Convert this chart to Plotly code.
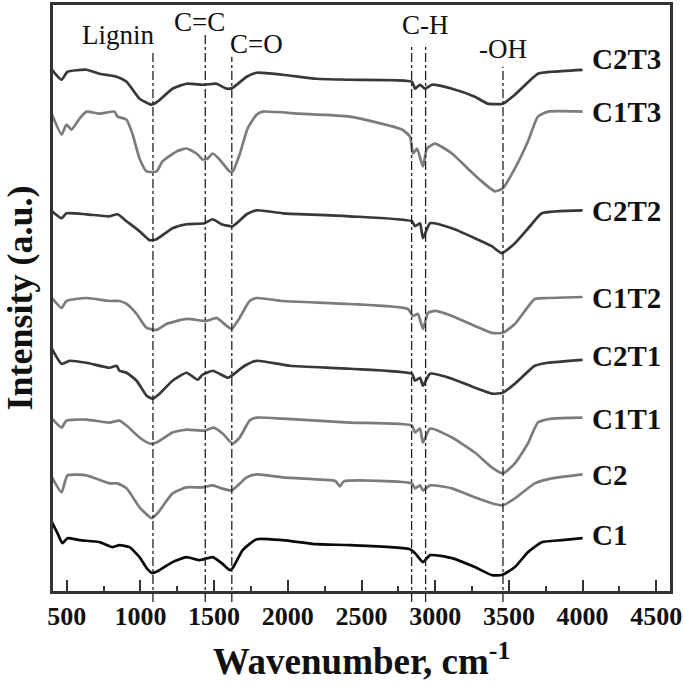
import plotly.graph_objects as go

# FTIR spectra, offset stacked
c2t3_x = [400, 465, 505, 634, 723, 838, 906, 994, 1076, 1116, 1218, 1313, 1435, 1517, 1585, 1626, 1721, 1789,
          1965, 2196, 2421, 2842, 2863, 2897, 2931, 2978, 3114, 3269, 3357, 3459, 3541, 3697, 3792, 4000]
c2t3_y = [524, 514, 522, 524, 520, 517, 512, 495, 489, 492, 505, 510, 509, 510, 505, 506, 517, 521,
          519, 515, 514, 512, 505, 509, 505, 509, 505, 497, 490, 490, 499, 520, 522, 524]

c1t3_x = [400, 465, 498, 532, 587, 634, 723, 824, 845, 906, 947, 994, 1042, 1110, 1150, 1245, 1313, 1381, 1422,
          1456, 1490, 1537, 1605, 1626, 1673, 1727, 1789, 1829, 2080, 2421, 2774, 2829, 2849, 2877, 2917, 2944,
          2998, 3114, 3221, 3316, 3405, 3459, 3541, 3629, 3697, 3765, 4000]
c1t3_y = [479, 459, 469, 464, 475, 482, 480, 482, 477, 474, 459, 435, 422, 422, 432, 442, 445, 440, 434,
          435, 440, 434, 422, 422, 439, 465, 479, 482, 480, 477, 464, 457, 440, 445, 427, 445,
          450, 440, 425, 412, 402, 405, 425, 452, 477, 482, 482]

c2t2_x = [400, 465, 498, 634, 790, 845, 906, 994, 1062, 1110, 1218, 1313, 1435, 1490, 1551, 1626, 1721, 1789,
          1965, 2421, 2842, 2863, 2897, 2917, 2965, 3114, 3269, 3384, 3452, 3541, 3643, 3724, 4000]
c2t2_y = [382, 375, 380, 379, 377, 379, 372, 362, 353, 354, 365, 369, 370, 374, 369, 367, 379, 383,
          380, 377, 372, 367, 370, 355, 370, 365, 355, 347, 340, 350, 367, 380, 383]

c1t2_x = [400, 465, 498, 634, 790, 858, 906, 974, 1042, 1110, 1177, 1313, 1449, 1517, 1585, 1619, 1673, 1741,
          1789, 1965, 2421, 2815, 2849, 2883, 2917, 2951, 2998, 3114, 3269, 3384, 3459, 3541, 3676, 3765, 4000]
c1t2_y = [295, 285, 292, 295, 292, 292, 289, 279, 265, 263, 269, 274, 272, 275, 267, 264, 275, 292,
          295, 292, 289, 284, 277, 279, 264, 280, 282, 277, 267, 260, 260, 269, 294, 295, 296]

c2t1_x = [400, 465, 519, 634, 790, 838, 858, 906, 974, 1042, 1082, 1130, 1218, 1313, 1388, 1422, 1490,
          1592, 1619, 1707, 1789, 2013, 2421, 2842, 2863, 2897, 2917, 2965, 3114, 3269, 3384, 3459, 3541,
          3676, 3765, 4000]
c2t1_y = [244, 229, 232, 230, 225, 227, 222, 220, 212, 197, 194, 199, 212, 220, 213, 218, 222,
          215, 217, 227, 232, 227, 224, 219, 212, 215, 207, 219, 214, 205, 199, 200, 209,
          227, 230, 233]

c1t1_x = [400, 465, 498, 634, 790, 858, 906, 994, 1062, 1110, 1218, 1313, 1435, 1497, 1558, 1626, 1673, 1741,
          1789, 1965, 2421, 2842, 2863, 2897, 2917, 2965, 3114, 3269, 3384, 3459, 3541, 3629, 3697, 3792, 4000]
c1t1_y = [174, 165, 172, 173, 170, 172, 167, 155, 149, 150, 160, 163, 162, 165, 159, 149, 155, 172,
          175, 174, 170, 167, 160, 164, 150, 164, 155, 140, 125, 119, 129, 149, 170, 174, 175]

c2_x = [400, 465, 505, 634, 790, 845, 906, 994, 1076, 1116, 1218, 1313, 1422, 1490, 1551, 1619, 1721, 1789,
        1965, 2305, 2326, 2353, 2380, 2842, 2863, 2897, 2917, 2965, 3114, 3269, 3384, 3459, 3541, 3676,
        3792, 4000]
c2_y = [115, 100, 117, 117, 109, 109, 104, 85, 74, 79, 99, 105, 105, 107, 104, 102, 115, 118,
        115, 112, 111, 106, 111, 109, 104, 107, 102, 107, 104, 95, 89, 87, 94, 109,
        114, 118]

c1_x = [400, 437, 471, 505, 587, 723, 811, 858, 926, 994, 1042, 1082, 1130, 1218, 1313, 1401, 1490, 1551,
        1605, 1626, 1694, 1789, 1965, 2196, 2421, 2829, 2863, 2917, 2965, 3114, 3269, 3384, 3452, 3541,
        3629, 3724, 3860, 4000]
c1_y = [70, 59, 49, 54, 52, 50, 45, 47, 45, 35, 24, 19, 22, 30, 35, 32, 35, 29,
        22, 24, 42, 53, 52, 48, 47, 43, 39, 30, 37, 34, 25, 17, 17, 25,
        40, 50, 52, 54]

series_names = ["C2T3", "C1T3", "C2T2", "C1T2", "C2T1", "C1T1", "C2", "C1"]
series_x = [c2t3_x, c1t3_x, c2t2_x, c1t2_x, c2t1_x, c1t1_x, c2_x, c1_x]
series_y = [c2t3_y, c1t3_y, c2t2_y, c1t2_y, c2t1_y, c1t1_y, c2_y, c1_y]
series_colors = ["#383838", "#7c7c7c", "#383838", "#7c7c7c", "#383838", "#7c7c7c", "#7c7c7c", "#0a0a0a"]
label_y = [535, 482, 382, 295, 237, 174, 117, 57]

# band assignments
band_pos = [1085, 1440, 1620, 2840, 2935, 3460]
band_top = [542, 560, 537, 550, 550, 527]
band_text = ["Lignin", "C=C", "C=O", "C-H", "-OH"]
band_text_x = [845, 1401, 1789, 2931, 3459]
band_text_y = [559, 572, 550, 569, 545]

FONT = "Liberation Serif, Times New Roman, serif"
YMAX = 590

fig = go.Figure()
for name, xs, ys, col in zip(series_names, series_x, series_y, series_colors):
    fig.add_trace(go.Scatter(x=xs, y=ys, mode="lines", name=name,
                             line=dict(color=col, width=2.7, shape="spline", smoothing=0.5),
                             showlegend=False))

for pos, top in zip(band_pos, band_top):
    fig.add_shape(type="line", xref="x", yref="paper", x0=pos, x1=pos, y0=-10 / YMAX, y1=top / YMAX,
                  line=dict(color="#222", width=1.3, dash="dashdot"))

# frame around the plotting area
fig.add_shape(type="rect", xref="paper", yref="paper", x0=0, x1=1, y0=0, y1=1,
              line=dict(color="#333", width=2))

for txt, x, y in zip(band_text, band_text_x, band_text_y):
    fig.add_annotation(x=x, y=y, text=txt, showarrow=False, xref="x", yref="y",
                       font=dict(family=FONT, size=27, color="#111"))

for name, y in zip(series_names, label_y):
    fig.add_annotation(x=4050, y=y, text="<b>" + name + "</b>", showarrow=False, xanchor="left",
                       xref="x", yref="y", font=dict(family=FONT, size=29, color="#111"))

fig.update_xaxes(range=[400, 4600], tickvals=[500, 1000, 1500, 2000, 2500, 3000, 3500, 4000, 4500],
                 ticks="inside", ticklen=12, tickwidth=1.5, tickcolor="#333", automargin=False,
                 minor=dict(ticks="inside", ticklen=6, dtick=250, tick0=500, tickcolor="#333", tickwidth=1.5),
                 showline=True, linecolor="#333", linewidth=2, mirror=True, showgrid=False, zeroline=False,
                 tickfont=dict(family=FONT, size=26, color="#111", weight="bold"),
                 title=dict(text="<b>Wavenumber, cm<sup>-1</sup></b>", standoff=18,
                            font=dict(family=FONT, size=37, color="#111")))
fig.update_yaxes(range=[0, YMAX], showticklabels=False, ticks="", showline=True, linecolor="#333",
                 linewidth=2, mirror=True, showgrid=False, zeroline=False, automargin=False,
                 title=dict(text="<b>Intensity (a.u.)</b>", standoff=15,
                            font=dict(family=FONT, size=36, color="#111")))

fig.update_layout(width=685, height=695, margin=dict(l=52, r=14, t=4, b=103),
                  plot_bgcolor="white", paper_bgcolor="white")

# drop the page's default body margin so the figure sits at the window corner
fig.write_html("out.html", config={"displayModeBar": False},
               post_script="document.body.style.margin='0';")
